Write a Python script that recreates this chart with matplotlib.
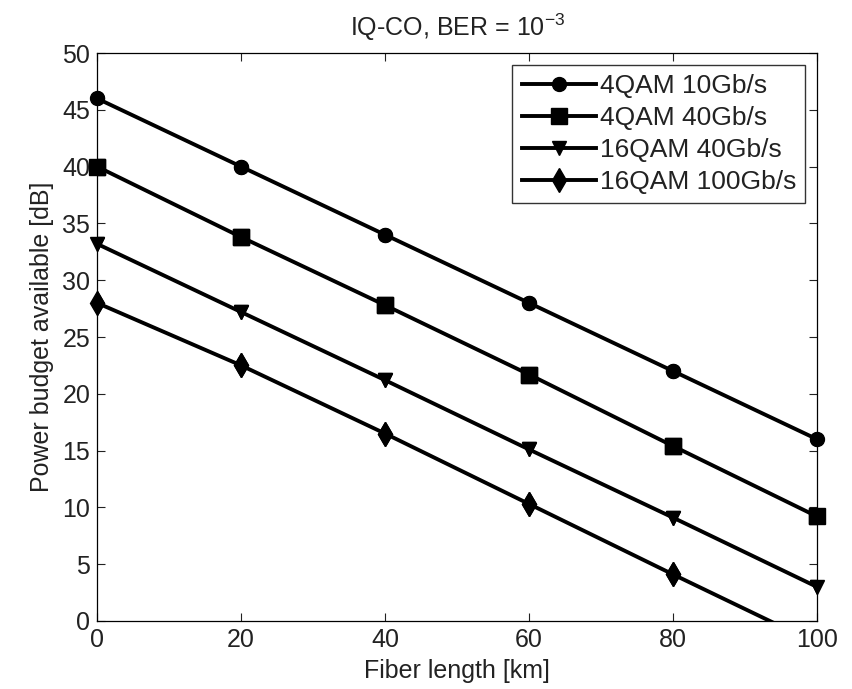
import numpy as np
import matplotlib.pyplot as plt

# Power budget vs fiber length, IQ coherent receiver at BER = 1e-3
fiber_km = [0, 20, 40, 60, 80, 100]
qam4_10g = [46.0, 40.0, 34.0, 28.0, 22.0, 16.0]
qam4_40g = [40.0, 33.8, 27.8, 21.7, 15.4, 9.2]
qam16_40g = [33.2, 27.2, 21.2, 15.1, 9.1, 3.0]
qam16_100g = [28.0, 22.5, 16.5, 10.3, 4.1, -2.0]

labels = ['4QAM 10Gb/s', '4QAM 40Gb/s', '16QAM 40Gb/s', '16QAM 100Gb/s']
markers = ['o', 's', 'v', 'd']
msizes = [10, 11, 10, 12]

plt.rcParams['font.family'] = ['Liberation Sans', 'DejaVu Sans']
TXT = '#222222'

fig = plt.figure(figsize=(8.52, 6.89), dpi=100)
ax = fig.add_axes([0.114, 0.0987, 0.845, 0.8243])

series = [qam4_10g, qam4_40g, qam16_40g, qam16_100g]
for ys, lab, mk, ms in zip(series, labels, markers, msizes):
    ys = np.asarray(ys)
    # line is clipped to the box, markers on the edges are drawn whole
    ax.plot(fiber_km, ys, color='black', linewidth=2.8, marker=mk,
            markersize=ms, markerfacecolor='black', label=lab)
    inside = np.where(ys >= 0, ys, np.nan)
    ax.plot(fiber_km, inside, linestyle='none', marker=mk, markersize=ms,
            color='black', clip_on=False)

ax.set_xlim(0, 100)
ax.set_ylim(0, 50)
ax.set_xticks(range(0, 101, 20))
ax.set_yticks(range(0, 51, 5))
ax.tick_params(direction='in', length=6, width=0.8, top=True, right=True,
               labelsize=18, colors=TXT, pad=5)
for s in ax.spines.values():
    s.set_linewidth(0.9)

ax.set_xlabel('Fiber length [km]', fontsize=18, color=TXT, labelpad=5)
ax.set_ylabel('Power budget available [dB]', fontsize=18, color=TXT, labelpad=6)
ax.set_title('IQ-CO, BER = $\\mathregular{10^{-3}}$', fontsize=18, color=TXT, pad=12)

leg = ax.legend(loc='upper right', fontsize=19, numpoints=1, handlelength=2.8,
                borderaxespad=0.45, frameon=True, fancybox=False,
                borderpad=0.35, labelspacing=0.3, handletextpad=0.15)
leg.get_frame().set_edgecolor('black')
leg.get_frame().set_linewidth(1.0)
for t in leg.get_texts():
    t.set_color(TXT)

fig.savefig('out.png', dpi=100)
